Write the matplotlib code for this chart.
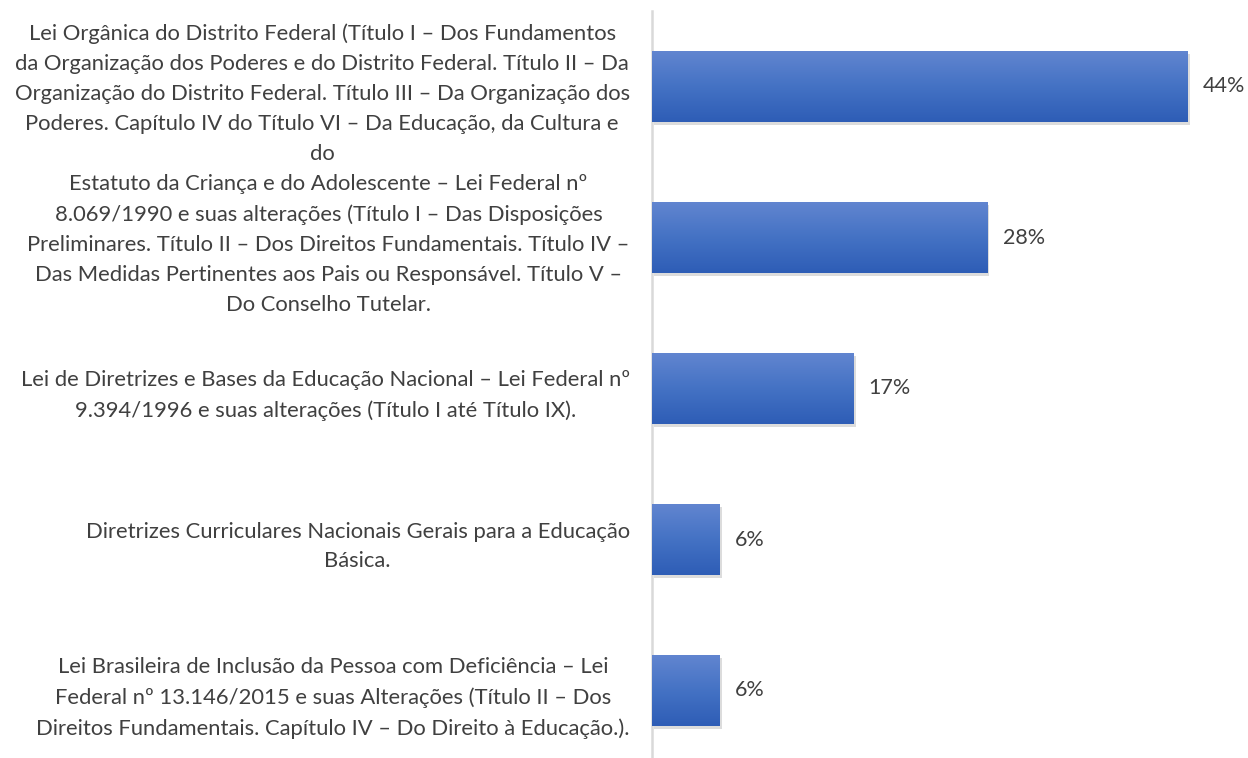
import numpy as np
import matplotlib.pyplot as plt
import matplotlib.patheffects as pe
from matplotlib.colors import LinearSegmentedColormap

labels = [
    "Lei Orgânica do Distrito Federal (Título I – Dos Fundamentos\n"
    "da Organização dos Poderes e do Distrito Federal. Título II – Da\n"
    "Organização do Distrito Federal. Título III – Da Organização dos\n"
    "Poderes. Capítulo IV do Título VI – Da Educação, da Cultura e\n"
    "do",
    "Estatuto da Criança e do Adolescente – Lei Federal nº\n"
    "8.069/1990 e suas alterações (Título I – Das Disposições\n"
    "Preliminares. Título II – Dos Direitos Fundamentais. Título IV –\n"
    "Das Medidas Pertinentes aos Pais ou Responsável. Título V –\n"
    "Do Conselho Tutelar.",
    "Lei de Diretrizes e Bases da Educação Nacional – Lei Federal nº\n"
    "9.394/1996 e suas alterações (Título I até Título IX).",
    "Diretrizes Curriculares Nacionais Gerais para a Educação\n"
    "Básica.",
    "Lei Brasileira de Inclusão da Pessoa com Deficiência – Lei\n"
    "Federal nº 13.146/2015 e suas Alterações (Título II – Dos\n"
    "Direitos Fundamentais. Capítulo IV – Do Direito à Educação.).",
]
values = [44.4, 27.8, 16.7, 5.6, 5.6]
value_labels = ["44%", "28%", "17%", "6%", "6%"]

plt.rcParams['font.family'] = ['Lato', 'DejaVu Sans']
text_color = '#404040'

fig = plt.figure(figsize=(12.48, 7.58), dpi=100)
W, H = 1248, 758
ax = fig.add_axes([652 / W, 0, 555 / W, 1 - 11 / H])

y = np.arange(len(values))
bars = ax.barh(y, values, height=0.47, color='#4472C4', zorder=2)
for b in bars:
    b.set_path_effects([pe.SimplePatchShadow(offset=(1.5, -2.5), shadow_rgbFace='#8c8c8c', alpha=0.3), pe.Normal()])

# gradient fill like the excel bars
grad = np.linspace(0, 1, 100).reshape(-1, 1)
cmap = LinearSegmentedColormap.from_list('g', ['#6185D0', '#4472C4', '#2E5DB6'])
for b in bars:
    x0, y0 = b.get_x(), b.get_y()
    im = ax.imshow(grad, cmap=cmap, aspect='auto', extent=(x0, x0 + b.get_width(), y0 + b.get_height(), y0),
                   zorder=3, interpolation='bicubic')
    im.set_clip_path(b)

ax.set_xlim(0, 46)
ax.set_ylim((H - 86.5) / 151, -0.5)

for i, v in enumerate(values):
    ax.annotate(value_labels[i], (v, i), xytext=(11, 0), textcoords='offset points',
                va='center', ha='left', fontsize=15.5, color=text_color)

ax.set_yticks(y)
ax.set_yticklabels(labels, fontsize=15.8, color=text_color, linespacing=1.62)
for t in ax.get_yticklabels():
    t.set_multialignment('center')
ax.tick_params(axis='y', length=0, pad=16)
ax.set_xticks([])
for s in ['top', 'right', 'bottom']:
    ax.spines[s].set_visible(False)
ax.spines['left'].set_color('#D9D9D9')
ax.spines['left'].set_linewidth(1.8)

fig.savefig('out.png', dpi=100)
